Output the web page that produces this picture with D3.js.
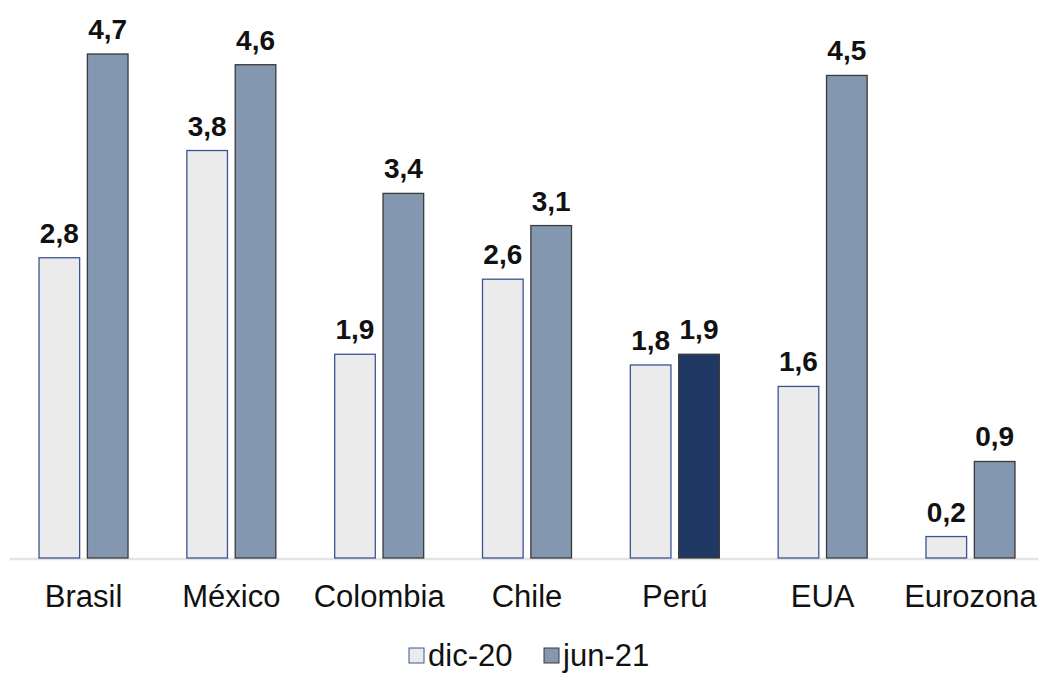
<!DOCTYPE html>
<html>
<head>
<meta charset="utf-8">
<script src="https://cdn.jsdelivr.net/npm/d3@7"></script>
<style>
  body { margin: 0; background: #fff; }
  svg { display: block; }
  text { font-family: "Liberation Sans", Arial, sans-serif; }
</style>
</head>
<body>
<svg id="chart" width="1038" height="673"></svg>
<script>
// data
const countries = ['Brasil', 'México', 'Colombia', 'Chile', 'Perú', 'EUA', 'Eurozona'];
const dic20 = [2.8, 3.8, 1.9, 2.6, 1.8, 1.6, 0.2];
const jun21 = [4.7, 4.6, 3.4, 3.1, 1.9, 4.5, 0.9];
const seriesNames = ['dic-20', 'jun-21'];

const svg = d3.select('#chart');

const x = d3.scaleBand()
    .domain(countries)
    .range([9.6, 1044.4]);

const y = d3.scaleLinear()
    .domain([0, 4.7])
    .range([558, 54]);

const inner = d3.scaleBand()
    .domain(seriesNames)
    .range([x.bandwidth() / 2 - 44.5, x.bandwidth() / 2 + 44.5])
    .paddingInner(0.16);

const fmt = d => d.toFixed(1).replace('.', ',');

// baseline
svg.append('line')
    .attr('x1', 10).attr('x2', 1038)
    .attr('y1', y(0) + 1).attr('y2', y(0) + 1)
    .attr('stroke', '#e4e4e4')
    .attr('stroke-width', 2.5);

const rows = countries.map((c, i) => ({country: c, vals: [
    {s: 'dic-20', v: dic20[i]},
    {s: 'jun-21', v: jun21[i]}
]}));

const groups = svg.selectAll('g.grp')
    .data(rows)
    .enter()
        .append('g')
            .attr('class', 'grp')
            .attr('transform', d => 'translate(' + x(d.country) + ',0)');

function fillFor(d, country) {
    if (d.s === 'dic-20') return '#ebebeb';
    return country === 'Perú' ? '#203864' : '#8497b0';
}

groups.selectAll('rect')
    .data(d => d.vals.map(v => Object.assign({c: d.country}, v)))
    .enter()
        .append('rect')
            .attr('x', d => inner(d.s))
            .attr('y', d => y(d.v))
            .attr('width', inner.bandwidth())
            .attr('height', d => y(0) - y(d.v))
            .attr('fill', d => fillFor(d, d.c))
            .attr('stroke', d => d.s === 'dic-20' ? '#3b5593' : '#3a3a3a')
            .attr('stroke-width', 1.3);

groups.selectAll('text.val')
    .data(d => d.vals)
    .enter()
        .append('text')
            .attr('class', 'val')
            .attr('x', d => inner(d.s) + inner.bandwidth() / 2)
            .attr('y', d => y(d.v) - 15)
            .attr('text-anchor', 'middle')
            .attr('font-size', 28)
            .attr('font-weight', 'bold')
            .attr('fill', '#111')
            .text(d => fmt(d.v));

// category labels
svg.selectAll('text.cat')
    .data(countries)
    .enter()
        .append('text')
            .attr('class', 'cat')
            .attr('x', d => x(d) + x.bandwidth() / 2)
            .attr('y', 607)
            .attr('text-anchor', 'middle')
            .attr('font-size', 31)
            .attr('fill', '#111')
            .text(d => d);

// legend
const legend = svg.append('g');
const legX = [409, 544];
const legend_items = legend.selectAll('g')
    .data(seriesNames)
    .enter()
        .append('g')
            .attr('transform', (d, i) => 'translate(' + legX[i] + ',648)');

legend_items.append('rect')
    .attr('width', 15).attr('height', 15)
    .attr('fill', d => d === 'dic-20' ? '#ebebeb' : '#8497b0')
    .attr('stroke', d => d === 'dic-20' ? '#3b5593' : '#3a3a3a')
    .attr('stroke-width', 1);

legend_items.append('text')
    .attr('x', 19)
    .attr('y', 18)
    .attr('font-size', 31)
    .attr('fill', '#111')
    .text(d => d);
</script>
</body>
</html>
